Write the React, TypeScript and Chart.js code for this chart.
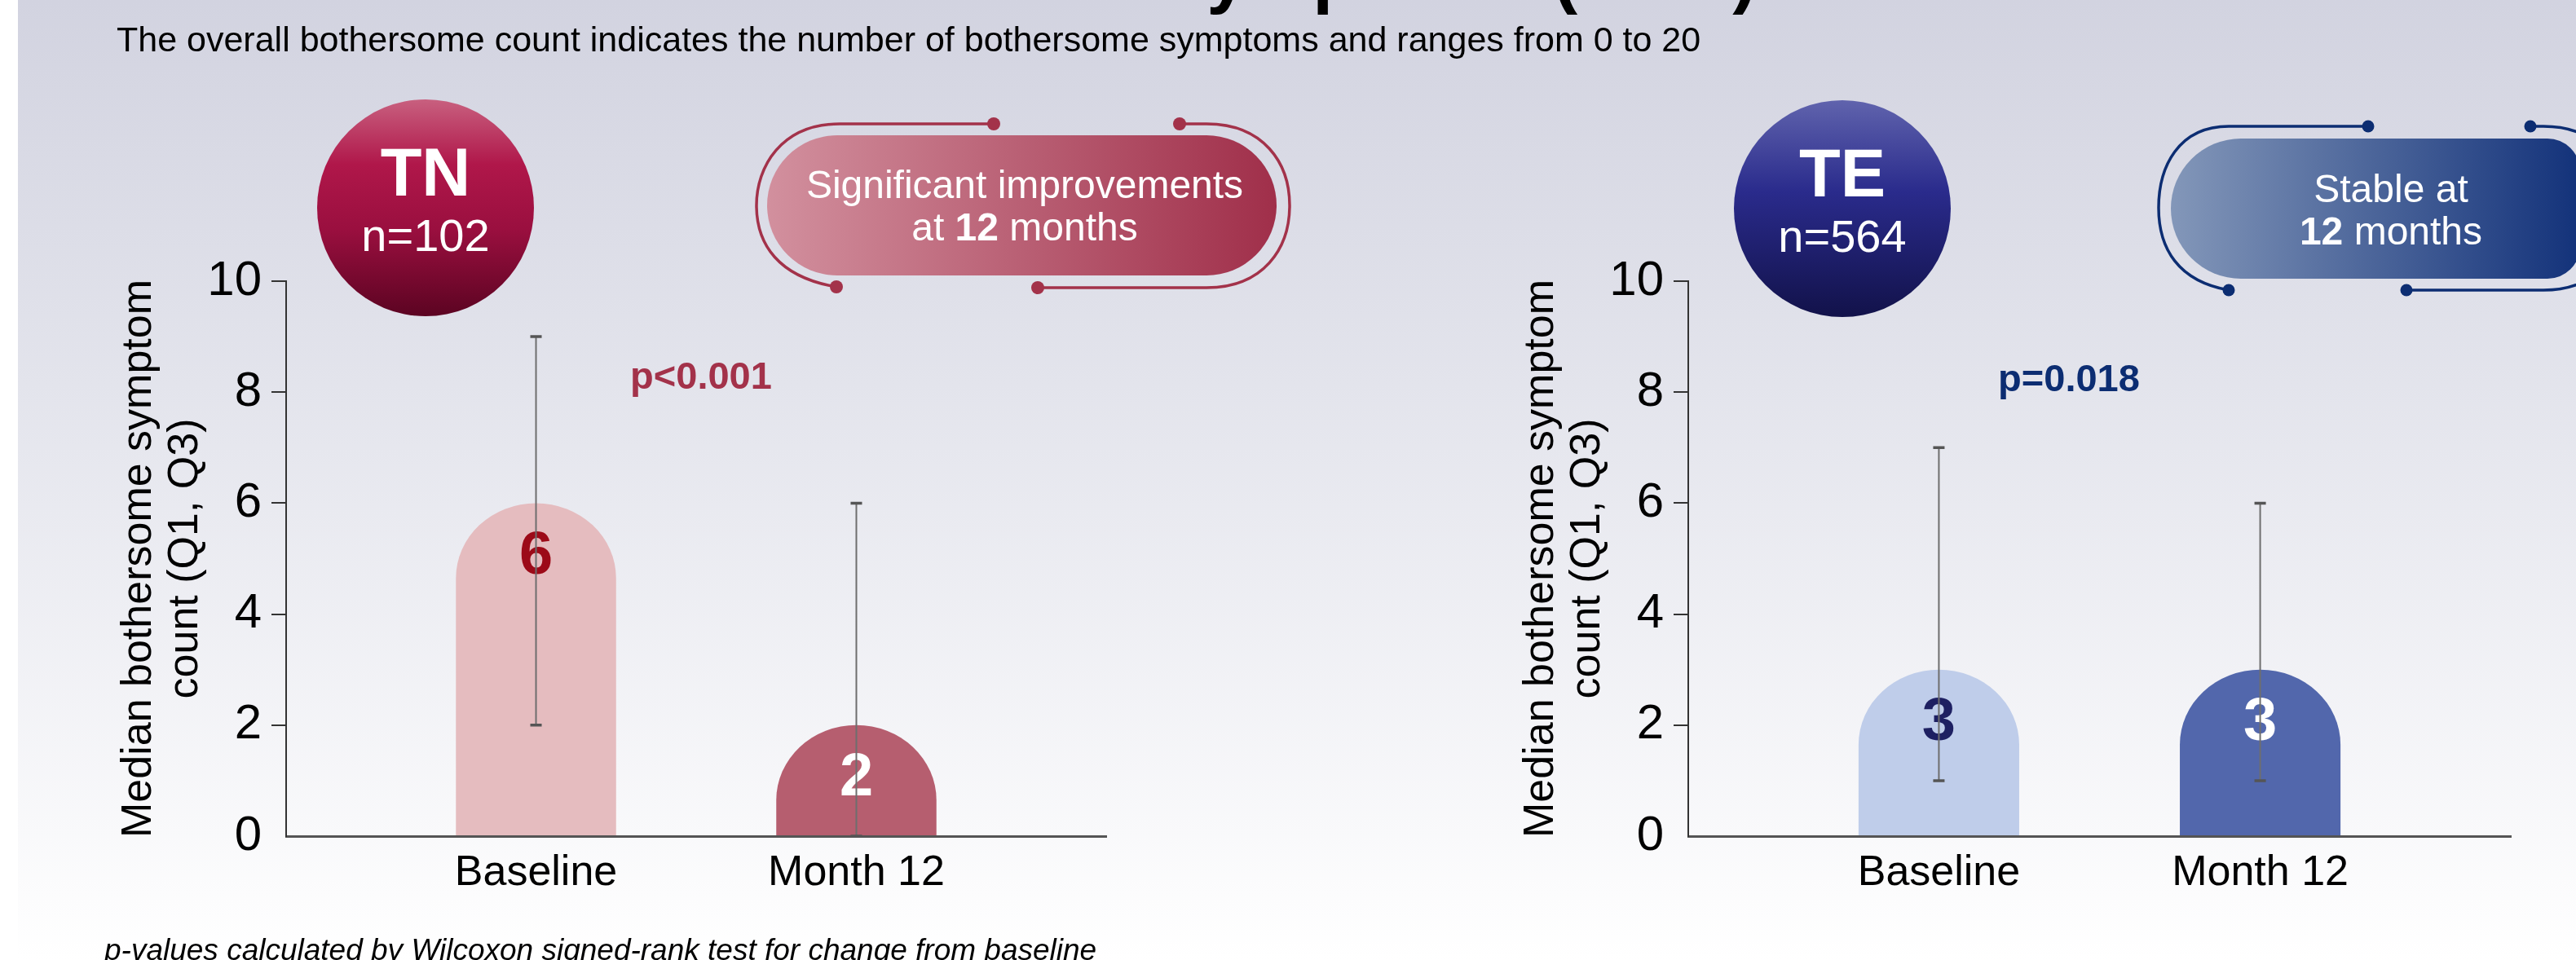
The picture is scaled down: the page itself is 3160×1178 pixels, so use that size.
import React, { useEffect, useRef } from 'react';
import { Chart, registerables } from 'chart.js';

Chart.register(...registerables);

// ---------- data ----------
const categories = ['Baseline', 'Month 12'];

const tnMedian = [6, 2];
const tnQ1 = [2, 0];
const tnQ3 = [9, 6];

const teMedian = [3, 3];
const teQ1 = [1, 1];
const teQ3 = [7, 6];

const yAxisTitle = ['Median bothersome symptom', 'count (Q1, Q3)'];

const tnBarColors = ['#e5bcbf', '#b65e6f'];
const tnLabelColors = ['#9c0a18', '#ffffff'];
const teBarColors = ['#bfcdea', '#5267ac'];
const teLabelColors = ['#1e2062', '#ffffff'];

const FONT = "'Liberation Sans', Arial, Helvetica, sans-serif";

type PanelProps = {
  left: number;
  rightPad: number;
  median: number[];
  q1: number[];
  q3: number[];
  barColors: string[];
  labelColors: string[];
};

function Panel({ left, rightPad, median, q1, q3, barColors, labelColors }: PanelProps) {
  const ref = useRef<HTMLCanvasElement | null>(null);

  useEffect(() => {
    const canvas = ref.current;
    if (!canvas) return;

    const shapePlugin = {
      id: 'bulletBars',
      beforeDatasetDraw(chart: any, args: any) {
        const ctx = chart.ctx;
        const meta = args.meta;
        meta.data.forEach((el: any, i: number) => {
          const { x, y, base, width } = el.getProps(['x', 'y', 'base', 'width'], true);
          const rx = width / 2;
          const capH = Math.min(92, base - y);
          ctx.save();
          ctx.fillStyle = barColors[i];
          ctx.beginPath();
          ctx.moveTo(x - rx, base);
          ctx.lineTo(x - rx, y + capH);
          ctx.ellipse(x, y + capH, rx, capH, 0, Math.PI, 2 * Math.PI);
          ctx.lineTo(x + rx, base);
          ctx.closePath();
          ctx.fill();
          ctx.restore();
        });
        return false;
      },
      afterDatasetsDraw(chart: any) {
        const ctx = chart.ctx;
        const yScale = chart.scales.y;
        const meta = chart.getDatasetMeta(0);
        meta.data.forEach((el: any, i: number) => {
          const { x, y } = el.getProps(['x', 'y'], true);
          // value label
          ctx.save();
          ctx.font = `bold 74px ${FONT}`;
          ctx.fillStyle = labelColors[i];
          ctx.textAlign = 'center';
          ctx.textBaseline = 'middle';
          ctx.fillText(String(median[i]), x, y + 66);
          ctx.restore();
          // error bar (Q1 - Q3)
          const yLo = yScale.getPixelForValue(q1[i]);
          const yHi = yScale.getPixelForValue(q3[i]);
          ctx.save();
          ctx.strokeStyle = '#6e6e6e';
          ctx.lineWidth = 2;
          ctx.beginPath();
          ctx.moveTo(x, yLo);
          ctx.lineTo(x, yHi);
          ctx.stroke();
          ctx.strokeStyle = '#555555';
          ctx.lineWidth = 3.5;
          ctx.beginPath();
          ctx.moveTo(x - 7, yLo);
          ctx.lineTo(x + 7, yLo);
          ctx.moveTo(x - 7, yHi);
          ctx.lineTo(x + 7, yHi);
          ctx.stroke();
          ctx.restore();
        });
      },
    };

    const chart = new Chart(canvas, {
      type: 'bar',
      data: {
        datasets: [
          {
            data: median.map((v, i) => ({ x: i, y: v })) as any,
            backgroundColor: barColors,
            barPercentage: 0.5,
            categoryPercentage: 1,
          },
        ],
      },
      options: {
        animation: false,
        responsive: false,
        devicePixelRatio: 1,
        layout: { padding: { top: 345, bottom: 52, left: 0, right: rightPad } },
        plugins: {
          legend: { display: false },
          tooltip: { enabled: false },
        },
        scales: {
          x: {
            type: 'linear',
            min: -0.78,
            max: 1.78,
            offset: false,
            z: 1,
            afterBuildTicks: (s: any) => {
              s.ticks = categories.map((_, i) => ({ value: i }));
            },
            afterFit: (s: any) => {
              s.height = 100;
            },
            grid: { display: false, drawTicks: false, offset: false },
            border: { display: true, color: '#555555', width: 3 },
            ticks: {
              autoSkip: false,
              maxRotation: 0,
              padding: 14,
              color: '#000000',
              font: { family: FONT, size: 52 },
              callback: (v: any) => categories[v as number] ?? '',
            },
          },
          y: {
            min: 0,
            max: 10,
            afterFit: (s: any) => {
              s.width = 351;
            },
            ticks: {
              stepSize: 2,
              padding: 12,
              color: '#000000',
              font: { family: FONT, size: 60 },
            },
            grid: {
              drawOnChartArea: false,
              drawTicks: true,
              tickLength: 18,
              lineWidth: 2,
              color: (c: any) => (c.tick && c.tick.value === 0 ? 'rgba(0,0,0,0)' : '#333333'),
            },
            border: { display: true, color: '#333333', width: 2 },
            title: {
              display: true,
              text: yAxisTitle,
              color: '#000000',
              font: { family: FONT, size: 52, lineHeight: 1.1 },
              padding: { top: 142, bottom: 0 },
            },
          },
        },
      } as any,
      plugins: [shapePlugin],
    });

    return () => chart.destroy();
  }, []);

  return (
    <canvas
      ref={ref}
      width={1440}
      height={1178}
      style={{ position: 'absolute', left, top: 0, width: 1440, height: 1178 }}
    />
  );
}

function Decorations() {
  const tnColor = '#a3324a';
  const teColor = '#0c2d72';
  return (
    <svg
      width={3160}
      height={1178}
      style={{ position: 'absolute', left: 0, top: 0, pointerEvents: 'none' }}
      fontFamily={FONT}
    >
      <defs>
        <linearGradient id="gTN" x1="0" y1="0" x2="0" y2="1">
          <stop offset="0" stopColor="#c8607f" />
          <stop offset="0.3" stopColor="#b0174a" />
          <stop offset="0.6" stopColor="#9a0f3f" />
          <stop offset="1" stopColor="#5c0422" />
        </linearGradient>
        <linearGradient id="gTE" x1="0" y1="0" x2="0" y2="1">
          <stop offset="0" stopColor="#6063ad" />
          <stop offset="0.42" stopColor="#2a2b8c" />
          <stop offset="1" stopColor="#12124a" />
        </linearGradient>
        <linearGradient id="pTN" x1="0" y1="0" x2="1" y2="0">
          <stop offset="0" stopColor="#d2909e" />
          <stop offset="1" stopColor="#a02f4a" />
        </linearGradient>
        <linearGradient id="pTE" x1="0" y1="0" x2="1" y2="0">
          <stop offset="0" stopColor="#8397b9" />
          <stop offset="1" stopColor="#13327a" />
        </linearGradient>
      </defs>

      {/* title (mostly above the visible area) */}
      <text x={880} y={-1} fontSize={90} fontWeight="bold" fill="#000">
        Bothersome symptoms (BSC)
      </text>
      <text x={143} y={63} fontSize={43} fill="#000">
        The overall bothersome count indicates the number of bothersome symptoms and ranges from 0 to 20
      </text>

      {/* TN badge */}
      <circle cx={522} cy={255} r={133} fill="url(#gTN)" />
      <text x={522} y={240} fontSize={83} fontWeight="bold" fill="#fff" textAnchor="middle">TN</text>
      <text x={522} y={308} fontSize={56} fill="#fff" textAnchor="middle">n=102</text>

      {/* TE badge */}
      <circle cx={2260} cy={256} r={133} fill="url(#gTE)" />
      <text x={2260} y={241} fontSize={83} fontWeight="bold" fill="#fff" textAnchor="middle">TE</text>
      <text x={2260} y={309} fontSize={56} fill="#fff" textAnchor="middle">n=564</text>

      {/* TN pill */}
      <g fill="none" stroke={tnColor} strokeWidth={3.5}>
        <path d="M1219,152 H1030 C958,152 928,205 928,252 C928,300 955,340 1026,352" />
        <path d="M1447,152 H1480 C1550,152 1582,200 1582,252 C1582,305 1550,353 1480,353 H1273" />
      </g>
      <g fill={tnColor}>
        <circle cx={1219} cy={152} r={8} />
        <circle cx={1026} cy={352} r={8} />
        <circle cx={1447} cy={152} r={8} />
        <circle cx={1273} cy={353} r={8} />
      </g>
      <rect x={941} y={166} width={625} height={172} rx={86} ry={86} fill="url(#pTN)" />
      <text x={1257} y={243} fontSize={48} fill="#fff" textAnchor="middle">Significant improvements</text>
      <text x={1257} y={295} fontSize={48} fill="#fff" textAnchor="middle">
        at <tspan fontWeight="bold">12</tspan> months
      </text>
      <text x={860} y={477} fontSize={47} fontWeight="bold" fill={tnColor} textAnchor="middle">p&lt;0.001</text>

      {/* TE pill */}
      <g fill="none" stroke={teColor} strokeWidth={3.5}>
        <path d="M2905,155 H2734 C2672,155 2648,205 2648,255 C2648,305 2672,345 2734,356" />
        <path d="M3104,155 H3120 C3190,155 3222,205 3222,256 C3222,305 3190,356 3120,356 H2952" />
      </g>
      <g fill={teColor}>
        <circle cx={2905} cy={155} r={7.5} />
        <circle cx={2734} cy={356} r={7.5} />
        <circle cx={3104} cy={155} r={7.5} />
        <circle cx={2952} cy={356} r={7.5} />
      </g>
      <path
        d="M2749,170 H3125 A40,40 0 0 1 3165,210 V302 A40,40 0 0 1 3125,342 H2749 A86,86 0 0 1 2749,170 Z"
        fill="url(#pTE)"
      />
      <text x={2933} y={248} fontSize={48} fill="#fff" textAnchor="middle">Stable at</text>
      <text x={2933} y={300} fontSize={48} fill="#fff" textAnchor="middle">
        <tspan fontWeight="bold">12</tspan> months
      </text>
      <text x={2538} y={480} fontSize={47} fontWeight="bold" fill={teColor} textAnchor="middle">p=0.018</text>

      {/* footnote */}
      <text x={128} y={1178} fontSize={37} fontStyle="italic" fill="#000">
        p-values calculated by Wilcoxon signed-rank test for change from baseline
      </text>
    </svg>
  );
}

export default function App() {
  return (
    <div
      style={{
        position: 'fixed',
        left: 0,
        top: 0,
        width: 3160,
        height: 1178,
        overflow: 'hidden',
        background: '#ffffff',
      }}
    >
      <div
        style={{
          position: 'absolute',
          left: 22,
          top: 0,
          right: 0,
          bottom: 0,
          background: 'linear-gradient(to bottom, #d2d3e0 0%, #e3e4ec 40%, #ffffff 100%)',
        }}
      />
      <Panel
        left={0}
        rightPad={83}
        median={tnMedian}
        q1={tnQ1}
        q3={tnQ3}
        barColors={tnBarColors}
        labelColors={tnLabelColors}
      />
      <Panel
        left={1720}
        rightPad={80}
        median={teMedian}
        q1={teQ1}
        q3={teQ3}
        barColors={teBarColors}
        labelColors={teLabelColors}
      />
      <Decorations />
    </div>
  );
}
